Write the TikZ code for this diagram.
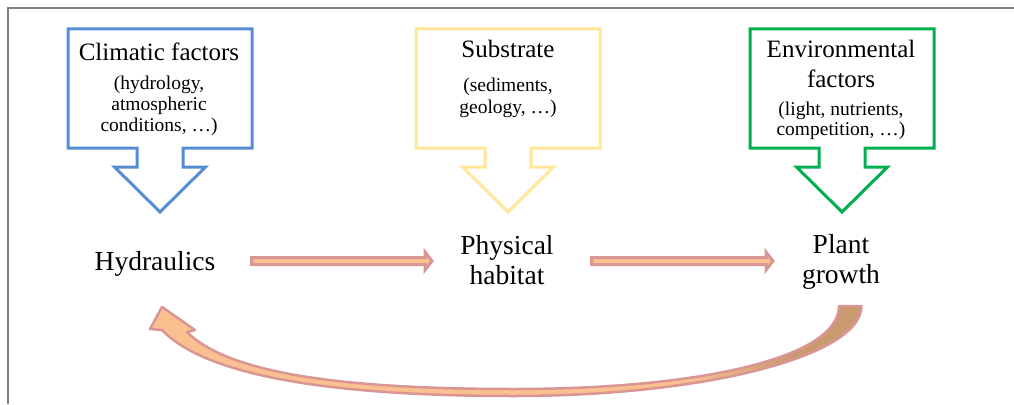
\documentclass[tikz,border=0pt]{standalone}
\usepackage{fontspec}
\setmainfont{Liberation Serif}
\usetikzlibrary{calc}
\definecolor{cblue}{RGB}{85,142,213}
\definecolor{cyellow}{RGB}{255,230,153}
\definecolor{cgreen}{RGB}{0,176,80}
\definecolor{afill}{RGB}{250,192,144}
\definecolor{adraw}{RGB}{217,150,148}
\definecolor{atan}{RGB}{201,153,111}
\definecolor{framegray}{RGB}{128,128,128}
\newcommand\drawcallout[2]{%
  \draw[calloutbox,draw=#2] ({#1-92},29) -- ({#1+92},29) -- ({#1+92},148) -- ({#1+23},148)
    -- ({#1+23},167) -- ({#1+45.5},167) -- (#1,212) -- ({#1-45.5},167) -- ({#1-23},167)
    -- ({#1-23},148) -- ({#1-92},148) -- cycle;}
\newcommand\backarrowpath{(839,306) -- (861.5,306) .. controls (861.5,356) and (705,396) .. (514,396)
  .. controls (350,396) and (210,380) .. (162,330) -- (150,329) -- (162,307) -- (195,330) -- (187,332)
  .. controls (230,375) and (350,389) .. (514,389) .. controls (700,389) and (839,358) .. (839,306) -- cycle}
\begin{document}
\begin{tikzpicture}[x=1pt,y=-1pt,
  calloutbox/.style={line width=3pt, line join=miter, fill=white},
  ttl/.style={inner sep=0pt, anchor=base, font=\fontsize{25}{30}\selectfont},
  sub/.style={inner sep=0pt, anchor=base, font=\fontsize{19.5}{21}\selectfont},
  mainlbl/.style={inner sep=0pt, anchor=base, font=\fontsize{27.5}{30}\selectfont},
  blockarrow/.style={fill=afill, draw=adraw, line width=3pt, line join=miter}]
\useasboundingbox (0,0) rectangle (1014,404);
\fill[white] (0,0) rectangle (1014,404);
\draw[framegray, line width=1.5pt] (8,404) -- (8,8) -- (1014,8);

% callouts
\drawcallout{160}{cblue}
\drawcallout{508}{cyellow}
\drawcallout{842}{cgreen}

% callout texts
\node[ttl] (clim) at (159,61) {Climatic factors};
\node[sub] (clim1) at (159,89) {(hydrology,};
\node[sub] (clim2) at (159,110) {atmospheric};
\node[sub] (clim3) at (159,131) {conditions, …)};
\node[ttl] (subs) at (508,57) {Substrate};
\node[sub] (subs1) at (508,91) {(sediments,};
\node[sub] (subs2) at (508,113) {geology, …)};
\node[ttl] (env) at (841,57) {Environmental};
\node[ttl] (env2) at (841,87) {factors};
\node[sub] (env3) at (841,115) {(light, nutrients,};
\node[sub] (env4) at (841,135) {competition, …)};

% main labels
\node[mainlbl] (hyd) at (155,270) {Hydraulics};
\node[mainlbl] (phys1) at (507,254) {Physical};
\node[mainlbl] (phys2) at (507,284) {habitat};
\node[mainlbl] (pl1) at (841,253) {Plant};
\node[mainlbl] (pl2) at (841,283) {growth};

% straight block arrows
\coordinate (a1s) at (251.5,261);
\coordinate (a1e) at (432,261);
\coordinate (a2s) at (591.5,261);
\coordinate (a2e) at (773,261);
\foreach \s/\e in {a1s/a1e, a2s/a2e}{
  \draw[blockarrow] ($(\s)+(0,-3.5)$) -- ($(\e)+(-7,-3.5)$) -- ($(\e)+(-7,-9)$) -- (\e)
    -- ($(\e)+(-7,9)$) -- ($(\e)+(-7,3.5)$) -- ($(\s)+(0,3.5)$) -- cycle;
}

% curved back arrow
\path[fill=afill] \backarrowpath;
\begin{scope}
  \clip \backarrowpath;
  \shade[left color=afill, right color=atan] (690,290) rectangle (790,410);
  \fill[atan] (789.5,290) rectangle (880,410);
\end{scope}
\draw[adraw, line width=2.5pt, line join=round] \backarrowpath;
\end{tikzpicture}
\end{document}
